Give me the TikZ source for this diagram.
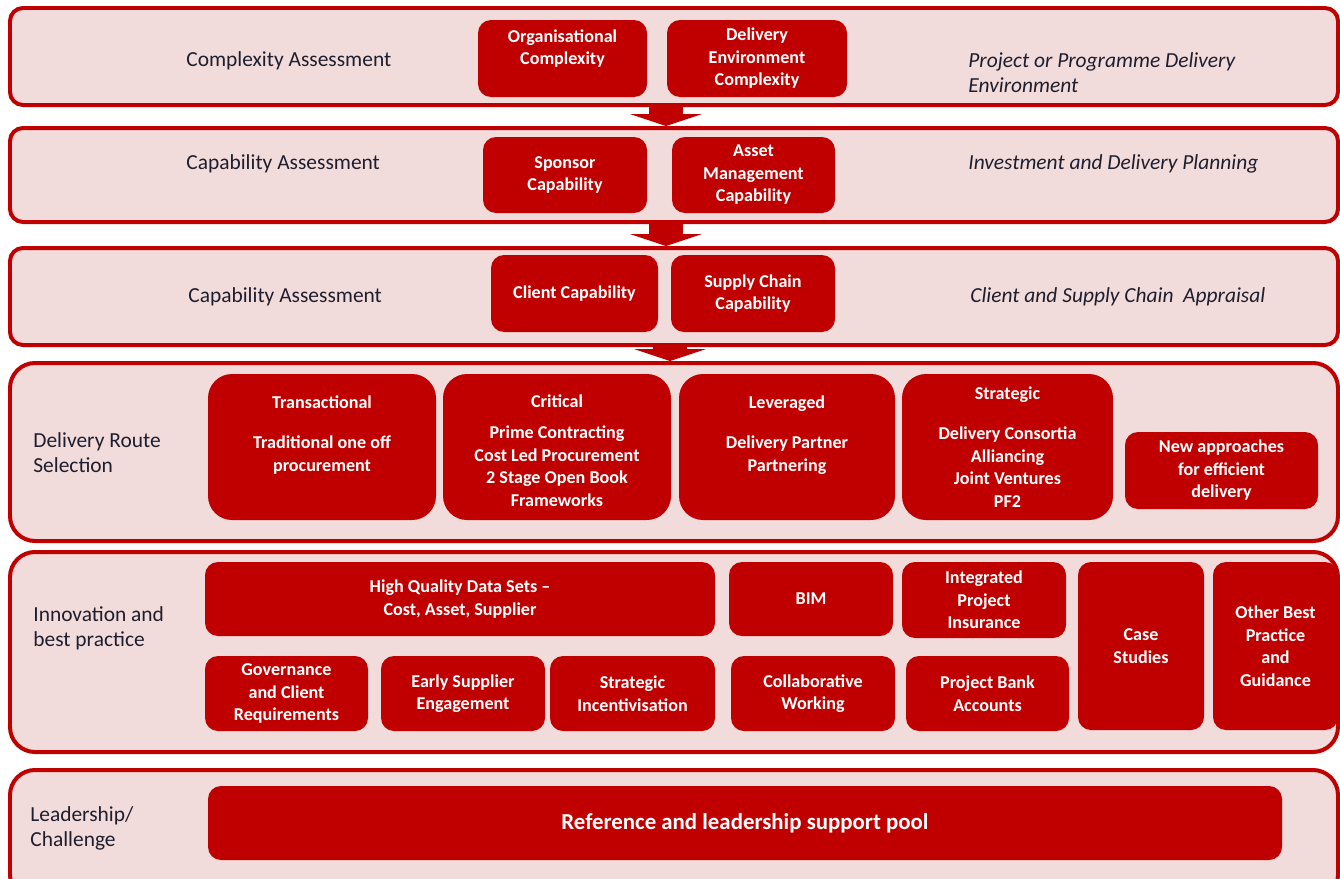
\documentclass[tikz,border=0pt]{standalone}
\usepackage{fontspec}
\setmainfont{Carlito}
\usetikzlibrary{arrows.meta}
\definecolor{ppred}{HTML}{C00000}
\definecolor{pppink}{HTML}{F2DCDB}
\definecolor{pptext}{HTML}{1E1E2E}

\begin{document}
\begin{tikzpicture}[
    x=0.02cm, y=-0.02cm,
    wh/.style 2 args={
        minimum width=#1*0.02cm,
        minimum height=#2*0.02cm
    },
    band/.style={
        rectangle,
        rounded corners=0.26cm,
        draw=ppred,
        line width=0.08cm,
        fill=pppink,
        inner sep=0pt
    },
    wideband/.style={
        band,
        rounded corners=0.5cm
    },
    box/.style={
        rectangle,
        rounded corners=0.26cm,
        fill=ppred,
        text=white,
        align=center,
        inner sep=0pt,
        font=\fontsize{10.3}{12.8}\selectfont\bfseries
    },
    route/.style={
        box,
        rounded corners=0.48cm
    },
    stage/.style={
        anchor=west,
        align=left,
        inner sep=0pt,
        text=pptext,
        font=\fontsize{12.2}{14.2}\selectfont
    },
    plan/.style={
        stage,
        font=\fontsize{12.2}{14.2}\selectfont\itshape
    },
    flow/.style={
        -{Triangle[width=1.44cm, length=0.24cm]},
        line width=0.68cm,
        ppred
    }
]
\useasboundingbox (0,0) rectangle (1340,879);
\clip (0,0) rectangle (1340,879);

% bands
\node[band, wh={1328}{97}] (band1) at (674,56.5) {};
\node[band, wh={1328}{94}] (band2) at (674,175) {};
\node[band, wh={1328}{97}] (band3) at (674,296.5) {};
\node[wideband, wh={1328}{178}] (band4) at (674,452) {};
\node[wideband, wh={1328}{200}] (band5) at (674,652) {};
\node[wideband, wh={1328}{130}] (band6) at (674,835) {};

\coordinate (col) at (666,0);
\coordinate (col2) at (670,0);
\draw[flow] (band1.south -| col) -- (band2.north -| col);
\draw[flow] (band2.south -| col) -- (band3.north -| col);
\draw[flow] (band3.south -| col2) -- (band4.north -| col2);

% complexity
\node[stage] (cxlabel) at (186,61) {Complexity Assessment};
\node[box, wh={169}{77}] (orgcx) at (562.5,58.5) {Organisational\\Complexity\\\mbox{}};
\node[box, wh={180}{77}] (envcx) at (757,58.5) {Delivery\\Environment\\Complexity};
\node[plan] (cxplan) at (968,73) {Project or Programme Delivery\\Environment};

% capability
\node[stage] (caplabel) at (186,164) {Capability Assessment};
\node[box, wh={164}{76}] (sponsor) at (565,175) {Sponsor\\Capability};
\node[box, wh={163}{76}] (asset) at (753.5,175) {Asset\\Management\\Capability};
\node[plan] (capplan) at (968,164) {Investment and Delivery Planning};

\node[stage] (clabel) at (188,297) {Capability Assessment};
\node[box, wh={167}{77}] (client) at (574.5,293.5) {Client Capability};
\node[box, wh={164}{77}] (supply) at (753,293.5) {Supply Chain\\Capability};
\node[plan] (cplan) at (970,297) {Client and Supply Chain\ \ Appraisal};

% delivery routes
\node[stage] (routelabel) at (33,453) {Delivery Route\\Selection};
\node[route, wh={228}{146}] (trans) at (322,447)
    {Transactional\\[10pt]Traditional one off\\procurement\\[2.6pt]\mbox{}};
\node[route, wh={228}{146}] (crit) at (557,447)
    {\mbox{}\\[-1.4pt]Critical\\[4.8pt]Prime Contracting\\Cost Led Procurement\\2 Stage Open Book\\Frameworks};
\node[route, wh={216}{146}] (lev) at (787,447)
    {Leveraged\\[10pt]Delivery Partner\\Partnering\\[2.6pt]\mbox{}};
\node[route, wh={211}{146}] (strat) at (1007.5,447)
    {Strategic\\[10pt]Delivery Consortia\\Alliancing\\Joint Ventures\\PF2};
\node[box, wh={193}{77}] (newap) at (1221.5,470.5) {New approaches\\for efficient\\delivery};

% innovation
\node[stage] (innlabel) at (33,628) {Innovation and\\best practice};
\node[box, wh={510}{74}] (data) at (460,599) {High Quality Data Sets --\\Cost, Asset, Supplier};
\node[box, wh={164}{74}] (bim) at (811,599) {BIM};
\node[box, wh={164}{76}] (ipi) at (984,600) {Integrated\\Project\\Insurance};
\node[box, wh={126}{168}] (cases) at (1141,646) {Case\\Studies};
\node[box, wh={125}{168}] (other) at (1275.5,646) {Other Best\\Practice\\and\\Guidance};
\node[box, wh={163}{75}] (gov) at (286.5,693.5) {Governance\\and Client\\Requirements};
\node[box, wh={164}{75}] (esi) at (463,693.5) {Early Supplier\\Engagement};
\node[box, wh={165}{75}] (incent) at (632.5,693.5) {Strategic\\Incentivisation};
\node[box, wh={164}{75}] (collab) at (813,693.5) {Collaborative\\Working};
\node[box, wh={163}{75}] (pba) at (987.5,693.5) {Project Bank\\Accounts};

% leadership
\node[stage] (leadlabel) at (30,828) {Leadership/\\Challenge};
\node[box, wh={1074}{74}, font=\fontsize{13}{15}\selectfont\bfseries] (pool) at (745,823)
    {Reference and leadership support pool};

\end{tikzpicture}
\end{document}
